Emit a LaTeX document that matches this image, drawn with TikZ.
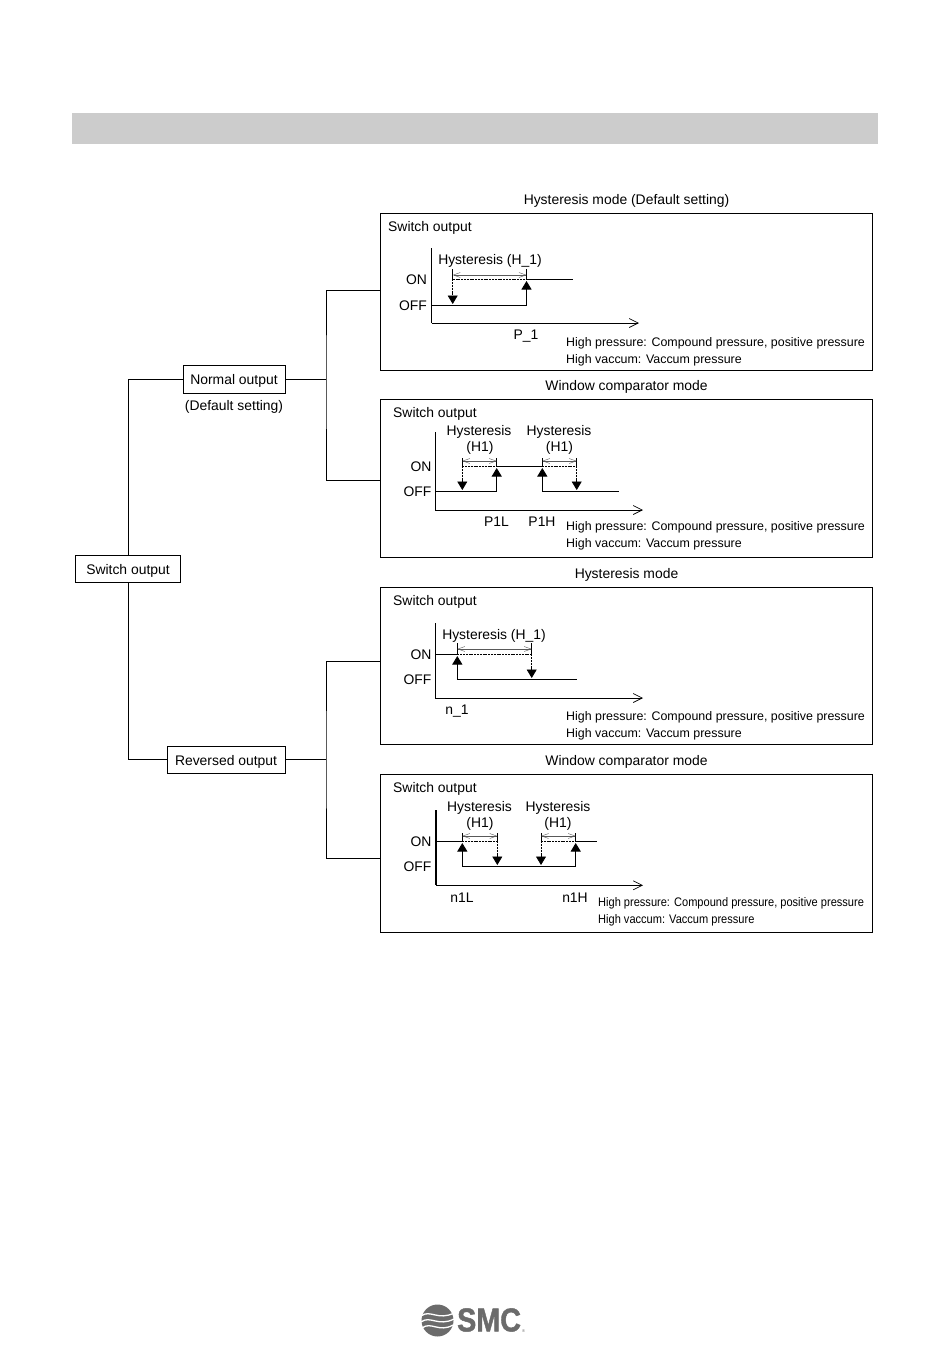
\documentclass[tikz,border=0pt]{standalone}
\usepackage{fontspec}
\setmainfont{Liberation Sans}
\newfontfamily\logofont[FakeBold=1.5]{Liberation Sans Bold}
\usetikzlibrary{arrows.meta}
\definecolor{barg}{gray}{0.8}
\definecolor{logog}{gray}{0.42}
\definecolor{dimg}{gray}{0.35}
\tikzset{
 box/.style={draw,line width=0.8pt,inner sep=0pt,text height=11.4pt,text depth=0pt,font=\fontsize{13.9}{15}\selectfont},
 panel/.style={draw,line width=0.9pt,inner sep=0pt},
 lab/.style={inner sep=0pt,yshift=-1.3pt,font=\fontsize{13.9}{15}\selectfont},
 note/.style={inner sep=0pt,yshift=-1pt,anchor=west,font=\fontsize{12.42}{14}\selectfont},
 conn/.style={line width=0.8pt},
 sig/.style={line width=0.9pt},
 hidden/.style={line width=0.7pt,dash pattern=on 2pt off 0.8pt},
 axis/.style={line width=0.9pt,-{Straight Barb[length=9pt,width=9pt,line width=0.7pt]}},
 tipfill/.style={-{Triangle[length=8.5pt,width=10pt]}},
 dim/.style={line width=0.4pt,draw=dimg,{Straight Barb[length=7pt,width=5pt]}-{Straight Barb[length=7pt,width=5pt]}},
 tick/.style={line width=0.5pt}
}
\begin{document}
\begin{tikzpicture}[x=1pt,y=-1pt]
\useasboundingbox (0,0) rectangle (950,1360);
\fill[barg] (72,113) rectangle (878,144);
% left tree
\node[box,minimum width=105pt,minimum height=27pt] (sw) at (128,568.5) {Switch output};
\node[box,minimum width=102pt,minimum height=28pt] (norm) at (234,379) {Normal output};
\node[box,minimum width=118pt,minimum height=27pt] (rev) at (226,759.5) {Reversed output};
\node[lab] (deflt) at (234,406) {(Default setting)};
% panels
\node[panel,minimum width=492pt,minimum height=157pt] (pa) at (626.5,292) {};
\node[panel,minimum width=492pt,minimum height=157.5pt] (pb) at (626.5,478.25) {};
\node[panel,minimum width=492pt,minimum height=157pt] (pc) at (626.5,666) {};
\node[panel,minimum width=492pt,minimum height=158pt] (pd) at (626.5,853.5) {};
\node[lab] (ta) at (626.5,200) {Hysteresis mode (Default setting)};
\node[lab] (tb) at (626.5,386) {Window comparator mode};
\node[lab] (tc) at (626.5,574) {Hysteresis mode};
\node[lab] (td) at (626.5,761) {Window comparator mode};
\coordinate (ja) at (326,379);
\coordinate (jb) at (326,759.5);
\coordinate (ina) at (380.5,290);
\coordinate (inb) at (380.5,480);
\coordinate (inc) at (380.5,661);
\coordinate (ind) at (380.5,858);
\draw[conn] (sw.north) |- (norm.west);
\draw[conn] (sw.south) |- (rev.west);
\draw[conn] (norm.east) -- (ja);
\draw[conn] (rev.east) -- (jb);
\draw[conn] (ina) -| (ja) |- (inb);
\draw[conn] (inc) -| (jb) |- (ind);
% panel a
\node[lab,anchor=west] (sa) at (388,227) {Switch output};
\node[lab] (ona) at (416.5,278.5) {ON};
\node[lab] (offa) at (413,304) {OFF};
\node[lab] (hya) at (490,260) {Hysteresis (H\_1)};
\node[lab] (pone) at (526,335) {P\_1};
\node[note] (na1) at (566,342) {High pressure: Compound pressure, positive pressure};
\node[note] (na2) at (566,359) {High vaccum: Vaccum pressure};
\draw[sig] (431.7,248) -- (431.7,323);
\draw[axis] (431.7,323) -- (639,323);
\draw[sig] (431.7,305) -- (526.5,305);
\draw[sig] (526.5,279.3) -- (572.7,279.3);
\draw[hidden] (452.7,279.3) -- (526.5,279.3);
\draw[sig,tipfill] (526.5,305) -- (526.5,281);
\draw[hidden,tipfill] (452.7,279.3) -- (452.7,304);
\draw[tick] (452.7,269) -- (452.7,279.3) (526.5,269) -- (526.5,279.3);
\draw[dim] (452.7,275) -- (526.5,275);
% panel b
\node[lab,anchor=west] (sb) at (393,413) {Switch output};
\node[lab] (onb) at (421,465.5) {ON};
\node[lab] (offb) at (417.5,490.5) {OFF};
\node[lab] (hyb1) at (479,431) {Hysteresis};
\node[lab] (hb1) at (480,447) {(H1)};
\node[lab] (hyb2) at (559,431) {Hysteresis};
\node[lab] (hb2) at (559.5,447) {(H1)};
\node[lab] (pl) at (496.5,520) {P1L};
\node[lab] (ph) at (542,520) {P1H};
\node[note] (nb1) at (566,526) {High pressure: Compound pressure, positive pressure};
\node[note] (nb2) at (566,543) {High vaccum: Vaccum pressure};
\draw[sig] (435.3,432) -- (435.3,510);
\draw[axis] (435.3,510) -- (643,510);
\draw[sig] (435.3,491) -- (496.7,491);
\draw[sig] (542.3,491) -- (618.7,491);
\draw[sig] (496.7,466.3) -- (542.3,466.3);
\draw[hidden] (462.3,466.3) -- (496.7,466.3);
\draw[hidden] (542.3,466.3) -- (576.7,466.3);
\draw[sig,tipfill] (496.7,491) -- (496.7,468);
\draw[sig,tipfill] (542.3,491) -- (542.3,468);
\draw[hidden,tipfill] (462.3,466.3) -- (462.3,490);
\draw[hidden,tipfill] (576.7,466.3) -- (576.7,490);
\draw[tick] (462.3,458) -- (462.3,466.3) (496.7,458) -- (496.7,466.3) (542.3,458) -- (542.3,466.3) (576.7,458) -- (576.7,466.3);
\draw[dim] (462.3,461) -- (496.7,461);
\draw[dim] (542.3,461) -- (576.7,461);
% panel c
\node[lab,anchor=west] (sc) at (393,601) {Switch output};
\node[lab] (onc) at (421,653.5) {ON};
\node[lab] (offc) at (417.5,678.5) {OFF};
\node[lab] (hyc) at (494,635) {Hysteresis (H\_1)};
\node[lab] (none) at (457,710) {n\_1};
\node[note] (nc1) at (566,716) {High pressure: Compound pressure, positive pressure};
\node[note] (nc2) at (566,733) {High vaccum: Vaccum pressure};
\draw[sig] (435.3,623) -- (435.3,698);
\draw[axis] (435.3,698) -- (643,698);
\draw[sig] (435.3,654.3) -- (457.3,654.3);
\draw[hidden] (457.3,654.3) -- (531.7,654.3);
\draw[sig] (457.3,679.3) -- (577.3,679.3);
\draw[sig,tipfill] (457.3,679.3) -- (457.3,656);
\draw[hidden,tipfill] (531.7,654.3) -- (531.7,678);
\draw[tick] (457.3,643) -- (457.3,654.3) (531.7,643) -- (531.7,654.3);
\draw[dim] (457.3,649) -- (531.7,649);
% panel d
\node[lab,anchor=west] (sd) at (393,788) {Switch output};
\node[lab] (ond) at (421,840.5) {ON};
\node[lab] (offd) at (417.5,865.5) {OFF};
\node[lab] (hyd1) at (479.5,807) {Hysteresis};
\node[lab] (hd1) at (480,823) {(H1)};
\node[lab] (hyd2) at (558,807) {Hysteresis};
\node[lab] (hd2) at (558,823) {(H1)};
\node[lab] (nl) at (462,896) {n1L};
\node[lab] (nh) at (575,896) {n1H};
\node[note,xscale=0.89,transform shape] (nd1) at (598,902) {High pressure: Compound pressure, positive pressure};
\node[note,xscale=0.89,transform shape] (nd2) at (598,919) {High vaccum: Vaccum pressure};
\draw[line width=1.6pt] (436,810) -- (436,885.3);
\draw[axis] (436,885.3) -- (643,885.3);
\draw[sig] (436,841.3) -- (462.3,841.3);
\draw[sig] (575.7,841.3) -- (597.3,841.3);
\draw[hidden] (462.3,841.3) -- (497.3,841.3);
\draw[hidden] (541,841.3) -- (575.7,841.3);
\draw[sig] (462.3,866) -- (575.7,866);
\draw[sig,tipfill] (462.3,866) -- (462.3,843);
\draw[sig,tipfill] (575.7,866) -- (575.7,843);
\draw[hidden,tipfill] (497.3,841.3) -- (497.3,865);
\draw[hidden,tipfill] (541,841.3) -- (541,865);
\draw[tick] (462.3,833) -- (462.3,841.3) (497.3,833) -- (497.3,841.3) (541,833) -- (541,841.3) (575.7,833) -- (575.7,841.3);
\draw[dim] (462.3,836) -- (497.3,836);
\draw[dim] (541,836) -- (575.7,836);
% logo
\fill[logog] (437.5,1320.5) circle (16pt);
\draw[white,line width=1.3pt] (421,1316) .. controls (430,1309) and (438,1321) .. (454,1313);
\draw[white,line width=1.3pt] (421,1322) .. controls (430,1315) and (438,1327) .. (454,1319);
\draw[white,line width=1.3pt] (422,1328) .. controls (431,1321) and (439,1333) .. (453,1325);
\node[inner sep=0pt,anchor=west,xscale=0.87,transform shape,text=logog,font=\fontsize{33}{33}\logofont] (smc) at (457,1320) {SMC};
\node[inner sep=0pt,text=logog,font=\fontsize{4}{4}\selectfont] (reg) at (523.5,1331) {®};
\end{tikzpicture}
\end{document}
